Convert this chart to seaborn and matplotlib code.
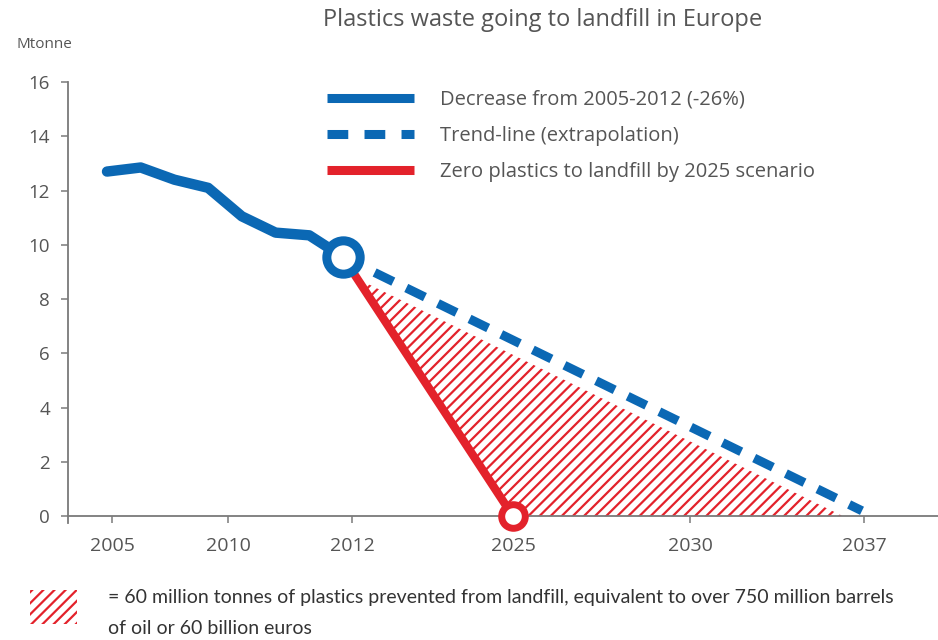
import numpy as np
import pandas as pd
import matplotlib
matplotlib.use("Agg")
import matplotlib.pyplot as plt
import seaborn as sns
from matplotlib.lines import Line2D
from matplotlib.patches import Rectangle

# ---- data -------------------------------------------------------------
hist_years = [2005, 2006, 2007, 2008, 2009, 2010, 2011, 2012]
hist_mt = [12.7, 12.85, 12.4, 12.1, 11.05, 10.45, 10.35, 9.55]

trend_years = [2012, 2037]
trend_mt = [9.55, 0.2]

zero_years = [2012, 2025]
zero_mt = [9.55, 0.0]

x_tick_labels = ["2005", "2010", "2012", "2025", "2030", "2037"]
y_ticks = [0, 2, 4, 6, 8, 10, 12, 14, 16]

series_labels = [
    "Decrease from 2005-2012 (-26%)",
    "Trend-line (extrapolation)",
    "Zero plastics to landfill by 2025 scenario",
]
title = "Plastics waste going to landfill in Europe"
unit_label = "Mtonne"
note_lines = [
    "= 60 million tonnes of plastics prevented from landfill, equivalent to over 750 million barrels",
    "of oil or 60 billion euros",
]

# ---- layout / style ---------------------------------------------------
BLUE = "#0b68b4"
RED = "#e3222b"
GREY = "#555555"
AXIS_GREY = "#7a7a7a"

# piecewise horizontal scale of the time axis (axis units)
YEAR_ANCHORS = [2005, 2012, 2025, 2037]
X_ANCHORS = [39, 275, 445, 794]
X_TICK_POS = [44, 160, 284, 445, 622, 796]


def xpos(years):
    return np.interp(years, YEAR_ANCHORS, X_ANCHORS)


sns.set_theme(style="white")
plt.rcParams["font.family"] = ["Open Sans", "DejaVu Sans"]
plt.rcParams["hatch.linewidth"] = 1.6

W, H = 938, 640
fig = plt.figure(figsize=(W / 100, H / 100), dpi=100)
ax = fig.add_axes([68 / W, 1 - 523 / H, 870 / W, 441 / H])
ax.set_xlim(0, 870)
ax.set_ylim(-0.25, 16)

hist = pd.DataFrame({"x": xpos(hist_years), "y": hist_mt})
trend = pd.DataFrame({"x": xpos(trend_years), "y": trend_mt})
zero = pd.DataFrame({"x": xpos(zero_years), "y": zero_mt})

# hatched area between the zero-landfill scenario and the trend-line
poly_x = [zero["x"].iloc[0], zero["x"].iloc[1], trend["x"].iloc[1]]
poly_y = [zero["y"].iloc[0], zero["y"].iloc[1], 0.0]
ax.fill(poly_x, poly_y, facecolor="white", edgecolor=RED, hatch="///",
        linewidth=0, zorder=1)

# white halo under the dashed trend-line
sns.lineplot(data=trend, x="x", y="y", ax=ax, color="white", lw=19,
             solid_capstyle="butt", zorder=2, estimator=None, sort=False)
sns.lineplot(data=trend, x="x", y="y", ax=ax, color=BLUE, lw=6.5,
             zorder=3, estimator=None, sort=False)
ax.lines[-1].set_dashes((2.3, 1.6))
ax.lines[-1].set_dash_capstyle("butt")

sns.lineplot(data=zero, x="x", y="y", ax=ax, color=RED, lw=6,
             zorder=3, estimator=None, sort=False)
sns.lineplot(data=hist, x="x", y="y", ax=ax, color=BLUE, lw=7.5,
             zorder=4, estimator=None, sort=False)
for ln in ax.lines:
    ln.set_solid_joinstyle("round")

# end-point rings
ax.plot(hist["x"].iloc[-1], hist["y"].iloc[-1], marker="o", ms=24,
        mfc="white", mec=BLUE, mew=6.5, zorder=5, clip_on=False)
ax.plot(zero["x"].iloc[-1], zero["y"].iloc[-1], marker="o", ms=17,
        mfc="white", mec=RED, mew=5, zorder=5, clip_on=False)

# axes
for s in ["top", "right"]:
    ax.spines[s].set_visible(False)
ax.spines["bottom"].set_position(("data", 0))
ax.spines["bottom"].set_color(AXIS_GREY)
ax.spines["left"].set_color(AXIS_GREY)
ax.spines["bottom"].set_linewidth(1.3)
ax.spines["left"].set_linewidth(1.3)
ax.spines["bottom"].set_zorder(2.5)

ax.set_xticks(X_TICK_POS, x_tick_labels)
ax.set_yticks(y_ticks, [str(v) for v in y_ticks])
ax.tick_params(axis="x", direction="out", length=5, width=1.1,
               color=AXIS_GREY, pad=10, labelsize=14, labelcolor=GREY,
               bottom=True)
ax.tick_params(axis="y", direction="out", length=5, width=1.1,
               color=AXIS_GREY, pad=8, labelsize=13.5, labelcolor=GREY,
               left=True)
ax.set_xlabel("")
ax.set_ylabel("")
ax.grid(False)

# legend
handles = [
    Line2D([], [], color=BLUE, lw=6.5, solid_capstyle="butt"),
    Line2D([], [], color=BLUE, lw=6.5, dashes=(2.3, 1.8),
           dash_capstyle="butt"),
    Line2D([], [], color=RED, lw=6.5, solid_capstyle="butt"),
]
ax.legend(handles, series_labels, loc="upper left",
          bbox_to_anchor=((327 - 68) / 870, (523 - 90) / 441),
          frameon=False, fontsize=14.5, labelcolor=GREY,
          handlelength=4.3, handletextpad=1.3, labelspacing=0.8,
          borderaxespad=0, borderpad=0)

# titles and notes
fig.text(543 / W, 1 - 20 / H, title, ha="center", va="center",
         fontsize=17, color=GREY, fontweight="medium")
fig.text(16 / W, 1 - 45 / H, unit_label, ha="left", va="center",
         fontsize=11, color=GREY)

fig.add_artist(Rectangle((30 / W, 1 - 624 / H), 47 / W, 34 / H,
                         transform=fig.transFigure, facecolor="white",
                         edgecolor=RED, hatch="///", linewidth=0))
fig.text(108 / W, 1 - 597 / H, note_lines[0], ha="left", va="center",
         fontsize=14, color="#333333", family=["Lato", "DejaVu Sans"])
fig.text(108 / W, 1 - 628 / H, note_lines[1], ha="left", va="center",
         fontsize=14, color="#333333", family=["Lato", "DejaVu Sans"])

fig.savefig("out.png", dpi=100)
